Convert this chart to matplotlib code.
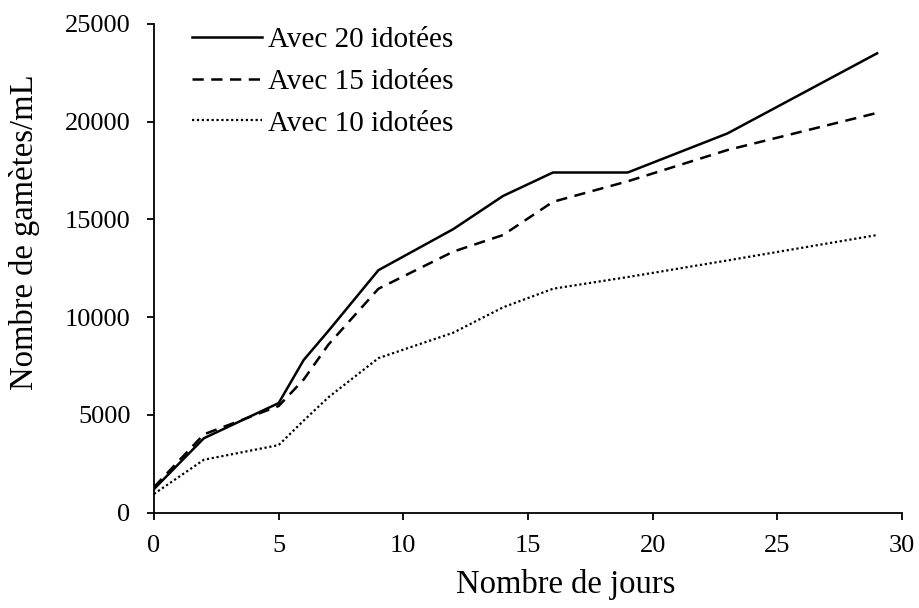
import matplotlib
matplotlib.use("Agg")
import matplotlib.pyplot as plt

plt.rcParams['font.family'] = ['Liberation Serif', 'DejaVu Serif']

days = [0, 2, 5, 6, 7, 9, 12, 14, 16, 19, 23, 29]
avec20 = [1200, 3800, 5600, 7800, 9300, 12400, 14500, 16200, 17400, 17400, 19400, 23500]
avec15 = [1300, 4000, 5450, 6800, 8600, 11450, 13350, 14200, 15900, 16950, 18550, 20450]
avec10 = [950, 2700, 3450, 4700, 5900, 7900, 9200, 10500, 11450, 12050, 12900, 14200]
labels = ['Avec 20 idotées', 'Avec 15 idotées', 'Avec 10 idotées']

fig = plt.figure(figsize=(9.19, 6.08), dpi=100)
ax = fig.add_axes([154/919, 1 - 512.5/608, (902-154)/919, (512.5-24)/608])

ax.plot(days, avec20, color='black', lw=1.8, linestyle='-', label=labels[0])
ax.plot(days, avec15, color='black', lw=1.8, linestyle=(0, (4.5, 3)), label=labels[1])
ax.plot(days, avec10, color='black', lw=1.6, linestyle=(0, (1, 1.2)), label=labels[2])

ax.set_xlim(0, 30)
ax.set_ylim(0, 25000)
ax.set_xticks([0, 5, 10, 15, 20, 25, 30])
ax.set_yticks([0, 5000, 10000, 15000, 20000, 25000])
ax.spines['top'].set_visible(False)
ax.spines['right'].set_visible(False)
for s in ['left', 'bottom']:
    ax.spines[s].set_linewidth(1.3)
ax.tick_params(direction='out', length=5, width=1.3, labelsize=19)
ax.tick_params(axis='x', pad=11)
ax.tick_params(axis='y', pad=12)

ax.set_xlabel('Nombre de jours', fontsize=23.5, va='center')
ax.xaxis.set_label_coords(0.550, -0.148)
ax.set_ylabel('Nombre de gamètes/mL', fontsize=23.5, va='center')
ax.yaxis.set_label_coords(-0.1725, 0.574)

leg = ax.legend(loc='upper left', bbox_to_anchor=(192/919, 1 - 27/608),
                bbox_transform=fig.transFigure, frameon=False, fontsize=21,
                handlelength=2.4, handletextpad=0.2, labelspacing=0.52,
                borderaxespad=0, borderpad=0)

fig.savefig('out.png', dpi=100)
